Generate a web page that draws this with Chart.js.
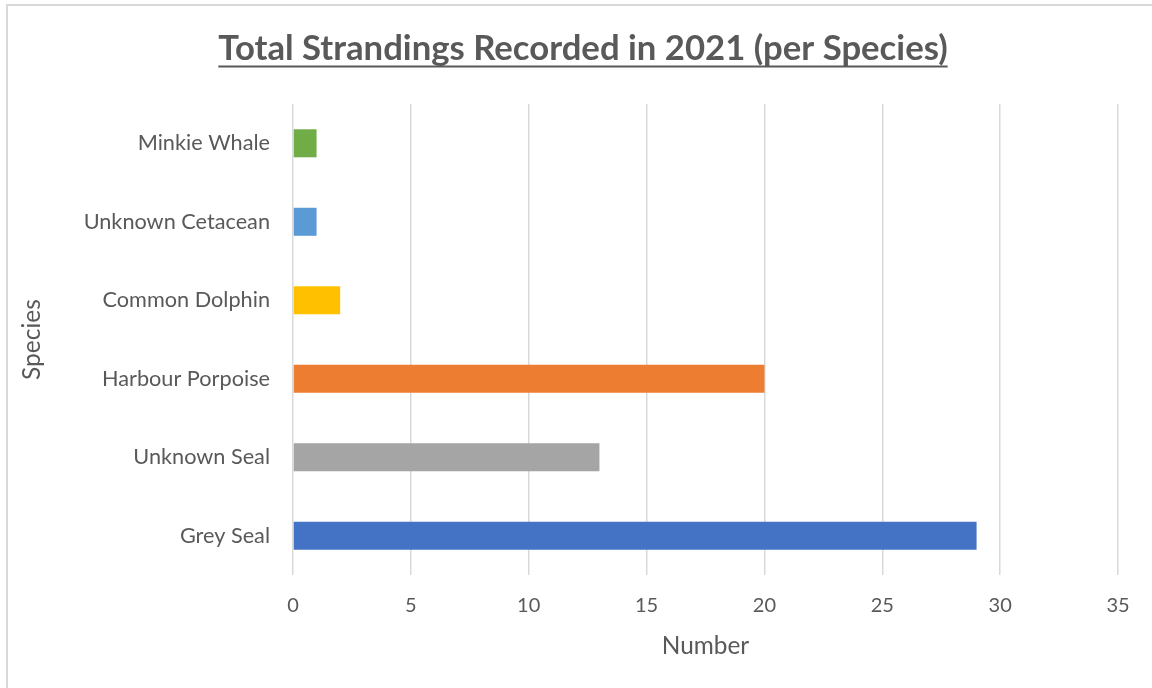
<!DOCTYPE html>
<html>
<head>
<meta charset="utf-8">
<title>Total Strandings Recorded in 2021 (per Species)</title>
<script src="https://cdn.jsdelivr.net/npm/chart.js@4.4.1/dist/chart.umd.min.js"></script>
<style>
    html, body { margin: 0; padding: 0; background: #ffffff; overflow: hidden; }
    #frame {
        position: absolute; left: 6px; top: 4px;
        width: 2000px; height: 2000px;
        border: 2px solid #d9d9d9;
    }
    #wrap { position: absolute; left: 0; top: 0; width: 1152px; height: 688px; }
</style>
</head>
<body>
<div id="frame"></div>
<div id="wrap"><canvas id="strandingsChart" width="1152" height="688"></canvas></div>
<script>
/**
 * Chart data (Excel order: first category is drawn at the bottom)
 */
let species = ['Grey Seal', 'Unknown Seal', 'Harbour Porpoise', 'Common Dolphin', 'Unknown Cetacean', 'Minkie Whale'];
let strandings = [29, 13, 20, 2, 1, 1];
let barColours = ['#4472C4', '#A5A5A5', '#ED7D31', '#FFC000', '#5B9BD5', '#70AD47'];
let xTicks = [0, 5, 10, 15, 20, 25, 30, 35];

let textColour = '#595959';
let fontFamily = 'Lato, "Open Sans", sans-serif';

/**
 * Underline the chart title, like the Excel original
 */
let titleUnderline = {
    id: 'titleUnderline',
    afterDraw(chart) {
        let title = chart.titleBlock;
        if (!title) return;
        let opts = chart.options.plugins.title;
        let ctx = chart.ctx;
        ctx.save();
        ctx.font = `bold ${opts.font.size}px ${fontFamily}`;
        let w = ctx.measureText(opts.text).width;
        let cx = (title.left + title.right) / 2;
        ctx.strokeStyle = opts.color;
        ctx.lineWidth = 2;
        ctx.beginPath();
        ctx.moveTo(cx - w / 2, 66.5);
        ctx.lineTo(cx + w / 2, 66.5);
        ctx.stroke();
        ctx.restore();
    }
};

let ctx = document.getElementById('strandingsChart').getContext('2d');

let strandingsChart = new Chart(ctx, {
    type: 'bar',
    data: {
        labels: species,
        datasets: [{
            label: 'Number',
            data: strandings,
            backgroundColor: barColours,
            borderWidth: 0,
            categoryPercentage: 1,
            barPercentage: 0.357
        }]
    },
    options: {
        indexAxis: 'y',
        responsive: false,
        animation: false,
        layout: { padding: { left: 48, right: 34, top: 0, bottom: 0 } },
        plugins: {
            legend: { display: false },
            tooltip: { enabled: false },
            title: {
                display: true,
                text: 'Total Strandings Recorded in 2021 (per Species)',
                color: textColour,
                font: { family: fontFamily, size: 34.7, weight: 'bold', lineHeight: 1.2 },
                padding: { top: 28, bottom: 34.4 }
            }
        },
        scales: {
            x: {
                min: 0,
                max: 35,
                afterBuildTicks(axis) {
                    axis.ticks = xTicks.map(v => ({ value: v }));
                },
                afterFit(axis) { axis.height = 113; },
                grid: { color: '#d9d9d9', lineWidth: 1.5, drawTicks: false },
                border: { display: false },
                ticks: {
                    color: textColour,
                    padding: 19,
                    font: { family: fontFamily, size: 20 }
                },
                title: {
                    display: true,
                    text: 'Number',
                    color: textColour,
                    font: { family: fontFamily, size: 24.4, lineHeight: 1.2 },
                    padding: { top: 0, bottom: 27 }
                }
            },
            y: {
                reverse: true,
                afterFit(axis) { axis.width = 245; },
                grid: { display: false, drawTicks: false },
                border: { display: false },
                ticks: {
                    color: textColour,
                    padding: 23,
                    font: { family: fontFamily, size: 21.7 }
                },
                title: {
                    display: true,
                    text: 'Species',
                    color: textColour,
                    font: { family: fontFamily, size: 24.5, lineHeight: 1.2 },
                    padding: { top: -31, bottom: 0 }
                }
            }
        }
    },
    plugins: [titleUnderline]
});
</script>
</body>
</html>
